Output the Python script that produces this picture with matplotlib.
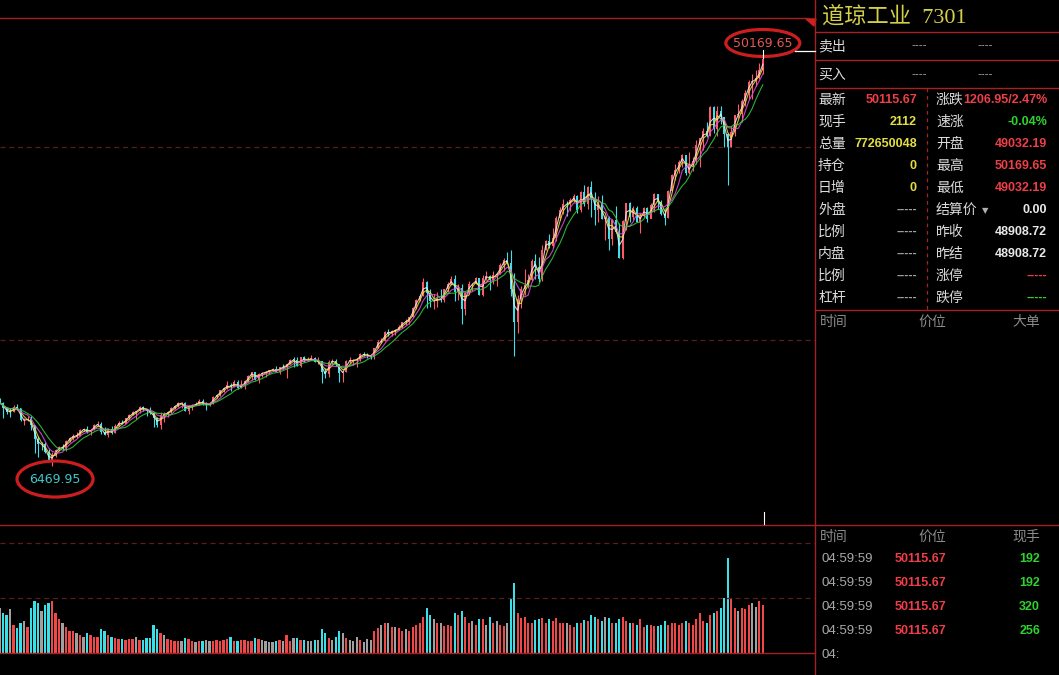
import numpy as np
import pandas as pd
import matplotlib
matplotlib.use('Agg')
import matplotlib.pyplot as plt
from matplotlib.patches import Ellipse, Polygon

plt.rcParams['font.family'] = ['Noto Sans CJK SC', 'DejaVu Sans']

# monthly bars, Dec 2007 .. Feb 2026
close = [
    13265,
    12650, 12266, 12263, 12820, 12638, 11350, 11378, 11544, 10851, 9325, 8829, 8776,
    8001, 7063, 7609, 8168, 8500, 8447, 9172, 9496, 9712, 9713, 10345, 10428,
    10067, 10325, 10857, 11009, 10137, 9774, 10466, 10015, 10788, 11118, 11006, 11578,
    11892, 12226, 12320, 12811, 12570, 12414, 12143, 11614, 10913, 11955, 12046, 12218,
    12633, 12952, 13212, 13214, 12393, 12880, 13009, 13091, 13437, 13096, 13026, 13104,
    13861, 14054, 14579, 14840, 15116, 14910, 15500, 14810, 15130, 15546, 16086, 16577,
    15699, 16322, 16458, 16581, 16717, 16827, 16563, 17098, 17043, 17391, 17828, 17823,
    17165, 18133, 17776, 17841, 18011, 17620, 17690, 16528, 16285, 17664, 17720, 17425,
    16466, 16517, 17685, 17774, 17787, 17930, 18432, 18401, 18308, 18142, 19124, 19763,
    19864, 20812, 20663, 20941, 21009, 21350, 21891, 21948, 22405, 23377, 24272, 24719,
    26149, 25029, 24103, 24163, 24416, 24271, 25415, 25965, 26458, 25116, 25538, 23327,
    24999, 25916, 25929, 26593, 24815, 26600, 26864, 26403, 26917, 27046, 28051, 28538,
    28256, 25409, 21917, 24346, 25383, 25813, 26428, 28430, 27782, 26502, 29638, 30606,
    29983, 30932, 32982, 33875, 34529, 34503, 34935, 35361, 33844, 35820, 34484, 36338,
    35132, 33893, 34678, 32977, 32990, 30775, 32845, 31510, 28726, 32733, 34590, 33147,
    34086, 32657, 33274, 34098, 32908, 34408, 35560, 34722, 33508, 33053, 35951, 37690,
    38150, 38996, 39807, 37816, 38686, 39119, 40843, 41563, 42330, 41763, 44911, 42544,
    44545, 43841, 42002, 40669, 42270, 44095, 44131, 45545, 46398, 47563, 47716, 48063,
    48892, 50115.67]

high = [
    13730,
    13280, 12770, 12660, 13010, 13140, 12660, 11620, 11810, 11790, 10880, 9650, 9030,
    9090, 8320, 7930, 8260, 8590, 8880, 9230, 9630, 9920, 10120, 10480, 10580,
    10730, 10400, 10930, 11260, 11210, 10600, 10590, 10720, 10950, 11250, 11450, 11630,
    12020, 12390, 12400, 12880, 12880, 12580, 12750, 12160, 11720, 12280, 12250, 12360,
    12840, 13050, 13290, 13340, 13340, 12900, 13070, 13330, 13660, 13660, 13290, 13300,
    13970, 14150, 14590, 14890, 15540, 15340, 15660, 15660, 15710, 15720, 16170, 16590,
    16590, 16400, 16590, 16630, 16740, 16980, 17150, 17120, 17350, 17400, 17900, 18100,
    18100, 18160, 18290, 18170, 18350, 18110, 18140, 17760, 16930, 17800, 17980, 17890,
    17400, 16700, 17790, 18170, 17930, 18010, 18620, 18670, 18530, 18390, 19150, 19990,
    20130, 20890, 21170, 21070, 21110, 21530, 21930, 22180, 22420, 23490, 24330, 24880,
    26620, 26310, 25450, 24860, 25090, 25400, 25470, 26170, 26770, 26950, 25990, 25980,
    25100, 26240, 26110, 26700, 26570, 26910, 27400, 26880, 27310, 27130, 28170, 28700,
    29370, 29570, 27100, 24760, 25760, 27580, 27000, 28650, 29200, 28900, 30120, 30640,
    31270, 31960, 33260, 34260, 35090, 34850, 35170, 35630, 35450, 35890, 36570, 36430,
    36950, 35820, 35370, 35490, 33300, 33270, 32910, 34280, 32500, 32790, 34600, 34710,
    34340, 34340, 33570, 34260, 34260, 34590, 35680, 35580, 34980, 33900, 36000, 37780,
    38780, 39290, 39890, 39760, 40080, 39570, 41380, 41590, 42630, 43330, 45070, 45070,
    45050, 45050, 43840, 42190, 42850, 44100, 45200, 45760, 46700, 47860, 48430, 48890,
    49650, 50169.65]

low = [
    13170,
    11635, 12060, 11730, 12220, 12420, 11290, 10830, 11240, 10360, 7880, 7450, 8150,
    7910, 7000, 6469.95, 7470, 8050, 8220, 8090, 9080, 9250, 9430, 9680, 10270,
    10040, 9830, 10300, 10830, 9870, 9740, 9610, 9930, 10010, 10740, 10930, 11030,
    11560, 11950, 11560, 12110, 12380, 11860, 12090, 10600, 10600, 10400, 11230, 11730,
    12150, 12630, 12750, 12710, 12390, 12040, 12490, 12980, 12960, 12990, 12470, 12880,
    13100, 13790, 14000, 14400, 14760, 14550, 14900, 14760, 14780, 14720, 15460, 15700,
    15650, 15340, 16000, 16000, 16310, 16680, 16560, 16330, 16900, 15860, 17360, 17070,
    17140, 17040, 17590, 17690, 17780, 17600, 17400, 15370, 15940, 16010, 17400, 17140,
    15450, 15500, 16500, 17480, 17330, 17060, 17710, 18260, 17990, 17960, 17880, 19150,
    19680, 19830, 20410, 20380, 20550, 21010, 21280, 21600, 21710, 22400, 23240, 24120,
    24660, 23360, 23510, 23340, 23530, 24080, 24080, 25120, 25900, 24120, 24270, 21710,
    22640, 24880, 25210, 25990, 24800, 24680, 26440, 25340, 25980, 25740, 27040, 27330,
    28170, 24680, 18214, 20740, 23360, 24840, 25520, 26320, 26540, 26140, 26270, 29560,
    29860, 29860, 30550, 32790, 33470, 33270, 33740, 34720, 33610, 33700, 34340, 34010,
    33150, 32270, 32580, 32910, 30640, 29650, 30140, 31480, 28720, 28660, 31730, 32570,
    32810, 32580, 31430, 33160, 32590, 32990, 33710, 34030, 33380, 32330, 33000, 35920,
    37120, 37800, 38450, 37610, 37790, 38100, 38770, 38500, 40340, 41740, 41780, 42150,
    41840, 43150, 40660, 36610, 40670, 41850, 43720, 43340, 45010, 45730, 45730, 47200,
    47900, 48500]

first_open = 13370

volume = [
    45,
    40, 38, 44, 28, 25, 30, 32, 26, 45, 52, 50, 42,
    48, 50, 52, 40, 34, 30, 26, 22, 22, 20, 18, 16,
    20, 18, 16, 16, 24, 22, 18, 16, 15, 14, 14, 13,
    14, 14, 16, 13, 13, 15, 15, 28, 24, 20, 18, 14,
    13, 12, 12, 12, 15, 14, 12, 11, 12, 12, 13, 12,
    12, 13, 12, 13, 14, 16, 12, 12, 13, 13, 12, 12,
    15, 14, 13, 12, 11, 11, 12, 13, 12, 18, 12, 15,
    15, 13, 13, 12, 12, 13, 13, 24, 20, 15, 13, 16,
    22, 20, 15, 13, 12, 16, 13, 11, 14, 13, 22, 25,
    28, 30, 30, 26, 26, 25, 22, 24, 22, 26, 28, 30,
    36, 45, 38, 34, 30, 30, 27, 28, 27, 40, 38, 42,
    36, 30, 32, 28, 34, 34, 28, 36, 30, 32, 28, 27,
    30, 55, 70, 40, 35, 36, 30, 30, 33, 34, 35, 30,
    34, 32, 35, 30, 30, 30, 28, 26, 30, 30, 33, 32,
    38, 36, 34, 32, 36, 35, 30, 30, 34, 36, 32, 30,
    30, 28, 34, 26, 28, 28, 27, 27, 28, 32, 28, 30,
    30, 28, 30, 32, 30, 28, 34, 40, 32, 30, 38, 40,
    42, 45, 55, 95, 55, 45, 42, 45, 44, 48, 50, 46,
    52, 48]

ma_windows = [2, 3, 5, 8]
ma_colors = ['#f0f0f0', '#f0e040', '#e050e0', '#30d040']

# quote board
RED = '#ee3f48'
YEL = '#e2e040'
GRN = '#2fd22f'
WHT = '#e8e8e8'
GRY = '#a0a0a0'
left_labels = ['最新', '现手', '总量', '持仓', '日增', '外盘', '比例', '内盘', '比例', '杠杆']
left_values = ['50115.67', '2112', '772650048', '0', '0', '-----', '-----', '-----', '-----', '-----']
left_colors = [RED, YEL, YEL, YEL, YEL, GRY, GRY, GRY, GRY, GRY]
right_labels = ['涨跌', '速涨', '开盘', '最高', '最低', '结算价', '昨收', '昨结', '涨停', '跌停']
right_values = ['1206.95/2.47%', '-0.04%', '49032.19', '50169.65', '49032.19', '0.00',
                '48908.72', '48908.72', '-----', '-----']
right_colors = [RED, GRN, RED, RED, RED, WHT, WHT, WHT, RED, GRN]

tick_times = ['04:59:59', '04:59:59', '04:59:59', '04:59:59']
tick_prices = ['50115.67', '50115.67', '50115.67', '50115.67']
tick_vols = ['192', '192', '320', '256']

# ---- derived
close = np.array(close, dtype=float)
high = np.array(high, dtype=float)
low = np.array(low, dtype=float)
volume = np.array(volume, dtype=float)
opn = np.r_[first_open, close[:-1]]
x = np.arange(len(close))
up = close >= opn
chg = (close - opn) / opn

LINE = '#a82020'
GRID = '#5e1c1c'
CANDLE_UP = '#ff5a6a'
CANDLE_DN = '#40e0e8'

fig = plt.figure(figsize=(10.59, 6.75), dpi=100, facecolor='black')

# price panel
ax = fig.add_axes([0, 151 / 675, 815 / 1059, 506 / 675])
ax.set_facecolor('black')
ax.set_xlim(0.14, 232.9)
ax.set_ylim(261, 54454)
ax.axhline(40600, color=GRID, lw=0.9, ls=(0, (4, 3)))
ax.axhline(19970, color=GRID, lw=0.9, ls=(0, (4, 3)))
ccol = np.where(up, CANDLE_UP, CANDLE_DN)
ax.vlines(x, low, high, colors=ccol, lw=0.8, zorder=2)
ax.bar(x, np.maximum(np.abs(close - opn), 60), bottom=np.minimum(close, opn),
       width=0.55, color=ccol, zorder=2)
for w, c in zip(ma_windows, ma_colors):
    ma = pd.Series(close).rolling(w, min_periods=1).mean()
    ax.plot(x, ma, color=c, lw=0.8, alpha=0.85, zorder=3)
ax.axis('off')

# volume panel
vax = fig.add_axes([0, 22 / 675, 815 / 1059, 129 / 675])
vax.set_facecolor('black')
vax.set_xlim(0.14, 232.9)
vax.set_ylim(0, 129)
vcol = np.where(np.abs(chg) < 0.01, '#a0a0a0', np.where(up, '#f04848', '#38e0e8'))
vax.bar(x, volume, width=0.65, color=vcol)
vax.axhline(55, color=GRID, lw=0.9, ls=(0, (4, 3)))
vax.axhline(110, color=GRID, lw=0.9, ls=(0, (4, 3)))
vax.axis('off')

# overlay in pixel coordinates for the frame and the quote board
ov = fig.add_axes([0, 0, 1, 1])
ov.set_xlim(0, 1059)
ov.set_ylim(675, 0)
ov.axis('off')
ov.patch.set_alpha(0)

def hline(y, x0, x1, **kw):
    ov.plot([x0, x1], [y, y], color=kw.pop('color', LINE), lw=kw.pop('lw', 1.0), **kw)

hline(18, 0, 808)
hline(524.5, 0, 1059)
hline(652.5, 0, 815)
for yy in [32, 60, 88, 310]:
    hline(yy, 815, 1059)
ov.plot([815, 815], [0, 675], color=LINE, lw=1.0)
ov.plot([927, 927], [88, 310], color=LINE, lw=0.9, ls=(0, (3, 3)))
ov.add_patch(Polygon([[806, 19], [816, 19], [814, 26]], closed=True, color='#d02020'))

# high / low marks
ihi = int(np.argmax(high))
ilo = int(np.argmin(low))
hx, hy = ax.transData.transform((ihi, high[ihi]))
lx, ly = ax.transData.transform((ilo, low[ilo]))
hy, ly = 675 - hy, 675 - ly
ov.plot([hx, hx], [hy - 8, hy], color='white', lw=0.8)
hline(51, 795, 815, color='white', lw=0.9)
ov.plot([764, 764], [512, 524], color='white', lw=0.8)
ov.add_patch(Ellipse((hx, hy - 15), 74, 27, fill=False, ec='#cc1e1e', lw=2.3))
ov.text(hx, hy - 15, f'{high[ihi]:.2f}', color='#e05858', fontsize=9,
        family=['DejaVu Sans'], ha='center', va='center')
ov.add_patch(Ellipse((lx + 3, ly + 13), 76, 36, fill=False, ec='#cc1e1e', lw=2.3))
ov.text(lx + 3, ly + 13, f'{low[ilo]:.2f}', color='#40c8c8', fontsize=9,
        family=['DejaVu Sans'], ha='center', va='center')

# title
ov.text(822, 17, '道琼工业  7301', color='#d4d04a', fontsize=16,
        family=['Liberation Serif', 'Noto Sans CJK SC'], ha='left', va='center')

lab = dict(fontsize=10, color='#dcdcdc', va='center', ha='left')
num = dict(fontsize=9, fontweight='bold', family=['Liberation Sans', 'DejaVu Sans'],
           va='center', ha='right')

ov.text(818, 46, '卖出', **lab)
ov.text(818, 75, '买入', **lab)
for yy in [46, 75]:
    ov.text(927, yy, '----', color=GRY, fontsize=8, va='center', ha='right')
    ov.text(993, yy, '----', color=GRY, fontsize=8, va='center', ha='right')

row_y = 100 + 22 * np.arange(len(left_labels))
for yy, l, v, c in zip(row_y, left_labels, left_values, left_colors):
    ov.text(818, yy, l, **lab)
    ov.text(917, yy, v, color=c, **num)
for yy, l, v, c in zip(row_y, right_labels, right_values, right_colors):
    ov.text(936, yy, l, **lab)
    ov.text(1047, yy, v, color=c, **num)
ov.text(985, row_y[5] + 1, '▼', color='#b0b0b0', fontsize=6, ha='center', va='center',
        family=['DejaVu Sans'])

hdr = dict(fontsize=10, color='#8c8c8c', va='center')
ov.text(820, 322, '时间', ha='left', **hdr)
ov.text(932, 322, '价位', ha='center', **hdr)
ov.text(1040, 322, '大单', ha='right', **hdr)

ov.text(820, 537, '时间', ha='left', **hdr)
ov.text(932, 537, '价位', ha='center', **hdr)
ov.text(1040, 537, '现手', ha='right', **hdr)
for k, (t, p, v) in enumerate(zip(tick_times, tick_prices, tick_vols)):
    yy = 559 + 24 * k
    ov.text(821, yy, t, color='#a8a8a8', fontsize=9.5, va='center', ha='left',
            family=['Liberation Sans', 'DejaVu Sans'])
    ov.text(946, yy, p, color=RED, **num)
    ov.text(1040, yy, v, color=GRN, **num)
ov.text(821, 655, '04:', color='#a8a8a8', fontsize=9.5, va='center', ha='left',
        family=['Liberation Sans', 'DejaVu Sans'])

fig.savefig('out.png', dpi=100, facecolor='black')
